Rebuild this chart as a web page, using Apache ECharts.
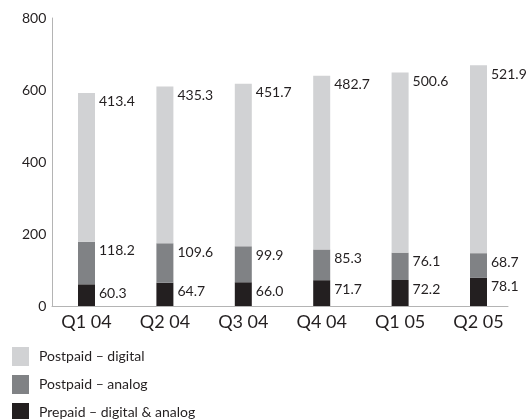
<!DOCTYPE html>
<html>
<head>
<meta charset="utf-8">
<script src="https://cdn.jsdelivr.net/npm/echarts@6/dist/echarts.min.js"></script>
<style>
html,body{margin:0;padding:0;background:#fff;}
#chart{width:529px;height:419px;}
</style>
</head>
<body>
<div id="chart"></div>
<script>
var categories = ['Q1 04', 'Q2 04', 'Q3 04', 'Q4 04', 'Q1 05', 'Q2 05'];
var prepaid = [60.3, 64.7, 66.0, 71.7, 72.2, 78.1];
var postpaidAnalog = [118.2, 109.6, 99.9, 85.3, 76.1, 68.7];
var postpaidDigital = [413.4, 435.3, 451.7, 482.7, 500.6, 521.9];
var yTicks = [0, 200, 400, 600, 800];
var legendNames = ['Postpaid – digital', 'Postpaid – analog', 'Prepaid – digital & analog'];

var FONT = 'Lato';
var TXT = '#231f20';
var AXIS = '#b4b4b4';

function lbl() {
  return {
    show: true,
    position: [21, 9],
    align: 'left',
    verticalAlign: 'middle',
    fontFamily: FONT,
    fontSize: 14,
    color: TXT,
    formatter: function (p) { return p.value.toFixed(1); }
  };
}

var chart = echarts.init(document.getElementById('chart'));
chart.setOption({
  animation: false,
  textStyle: { fontFamily: FONT },
  grid: [
    { left: 47.3, width: 470.4, top: 18, height: 288 },
    { left: 52, right: 21, top: 18, height: 288 }
  ],
  legend: {
    orient: 'vertical',
    left: 12,
    top: 347,
    height: 120,
    itemWidth: 17,
    itemHeight: 19,
    itemGap: 9,
    padding: 0,
    icon: 'rect',
    selectedMode: false,
    data: legendNames,
    textStyle: { fontFamily: FONT, fontSize: 14, color: TXT, padding: [0, 0, 0, 5] }
  },
  xAxis: [
    {
      type: 'category',
      gridIndex: 0,
      data: categories,
      axisLine: { show: false },
      axisTick: { show: false },
      axisLabel: { fontFamily: FONT, fontSize: 18, color: TXT, margin: 7 }
    },
    {
      type: 'value',
      gridIndex: 1,
      min: 0, max: 1,
      axisLine: { show: true, lineStyle: { color: AXIS, width: 1 } },
      axisTick: { show: false },
      axisLabel: { show: false },
      splitLine: { show: false }
    }
  ],
  yAxis: [
    {
      type: 'value',
      gridIndex: 0,
      min: 0, max: 800, interval: 200,
      axisLine: { show: false },
      axisTick: { show: false },
      splitLine: { show: false },
      axisLabel: {
        fontFamily: FONT, fontSize: 14, color: TXT, margin: 1,
        formatter: function (v) { return yTicks.indexOf(v) >= 0 ? String(v) : ''; }
      }
    },
    {
      type: 'value',
      gridIndex: 1,
      min: 0, max: 800,
      axisLine: { show: true, lineStyle: { color: AXIS, width: 1 } },
      axisTick: { show: false },
      axisLabel: { show: false },
      splitLine: { show: false }
    }
  ],
  series: [
    {
      name: legendNames[2], type: 'bar', stack: 'total',
      xAxisIndex: 0, yAxisIndex: 0,
      barWidth: 17, data: prepaid,
      itemStyle: { color: '#231f20' }, label: lbl()
    },
    {
      name: legendNames[1], type: 'bar', stack: 'total',
      xAxisIndex: 0, yAxisIndex: 0,
      barWidth: 17, data: postpaidAnalog,
      itemStyle: { color: '#808285' }, label: lbl()
    },
    {
      name: legendNames[0], type: 'bar', stack: 'total',
      xAxisIndex: 0, yAxisIndex: 0,
      barWidth: 17, data: postpaidDigital,
      itemStyle: { color: '#d1d2d4' }, label: lbl()
    }
  ]
});
</script>
</body>
</html>
